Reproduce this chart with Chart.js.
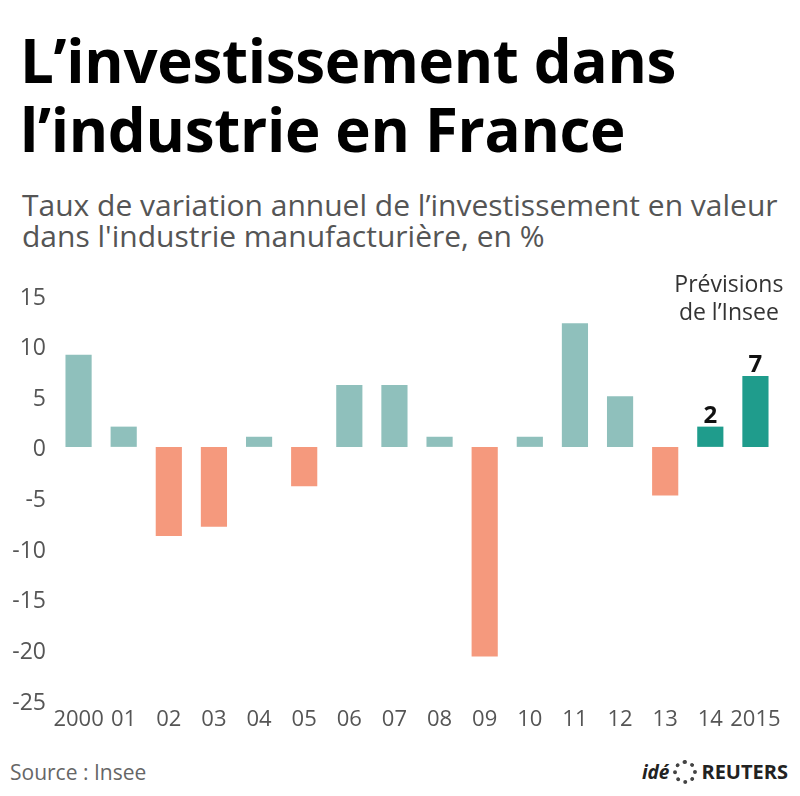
<!DOCTYPE html>
<html>
<head>
<meta charset="utf-8">
<script src="https://cdn.jsdelivr.net/npm/chart.js@4"></script>
<style>
  body { margin: 0; width: 800px; height: 796px; background: #fff; position: relative; overflow: hidden; font-family: "Open Sans", sans-serif; }
  #title { position: absolute; left: 20px; top: 26px; font-size: 60px; font-weight: 700; line-height: 69px; color: #000; letter-spacing: -0.3px; }
  #subtitle { position: absolute; left: 22px; top: 189px; font-size: 30px; line-height: 31px; color: #555; letter-spacing: 0px; }
  #chartBox { position: absolute; left: 0; top: 255px; width: 800px; height: 485px; }
  #source { position: absolute; left: 10px; top: 758px; font-size: 21px; color: #666; }
  #logo { position: absolute; right: 12px; top: 758px; font-size: 20px; font-weight: 700; color: #222; display: flex; align-items: center; gap: 4px; }
  #logo i { font-size: 19px; }
  #logo .dot { width: 24px; height: 24px; border-radius: 50%; border: 4px dotted #444; box-sizing: border-box; }
</style>
</head>
<body>
<div id="title">L’investissement dans<br>l’industrie en France</div>
<div id="subtitle">Taux de variation annuel de l’investissement en valeur<br>dans l'industrie manufacturière, en %</div>
<div id="chartBox"><canvas id="chart"></canvas></div>
<div id="source">Source : Insee</div>
<div id="logo"><i>idé</i><span class="dot"></span><span>REUTERS</span></div>
<script>
// Years (last two are Insee forecasts)
const years = ['2000', '01', '02', '03', '04', '05', '06', '07', '08', '09', '10', '11', '12', '13', '14', '2015'];
const values = [9.1, 2.0, -8.8, -7.9, 1.0, -3.9, 6.1, 6.1, 1.0, -20.7, 1.0, 12.2, 5.0, -4.8, 2, 7];
const forecast = [false, false, false, false, false, false, false, false, false, false, false, false, false, false, true, true];
const yTicks = [15, 10, 5, 0, -5, -10, -15, -20, -25];
const forecastLabel = ['Prévisions', 'de l’Insee'];

const colPos = '#8fc0bc';
const colNeg = '#f5997d';
const colForecast = '#1f9c8c';

const barColors = values.map((v, i) => forecast[i] ? colForecast : (v < 0 ? colNeg : colPos));

// labels on forecast bars + the "Prévisions" note
const notesPlugin = {
    id: 'notes',
    afterDatasetsDraw(chart) {
        const ctx = chart.ctx;
        const meta = chart.getDatasetMeta(0);
        ctx.save();
        ctx.textAlign = 'center';
        ctx.textBaseline = 'alphabetic';
        ctx.fillStyle = '#111';
        ctx.font = 'bold 24px "Open Sans"';
        values.forEach((v, i) => {
            if (!forecast[i]) return;
            const bar = meta.data[i];
            ctx.fillText(String(v), bar.x, bar.y - 4);
        });
        const first = forecast.indexOf(true);
        const x = (meta.data[first].x + meta.data[values.length - 1].x) / 2 - 4;
        ctx.font = '23px "Open Sans"';
        ctx.fillStyle = '#333';
        ctx.textBaseline = 'middle';
        ctx.fillText(forecastLabel[0], x, 30);
        ctx.fillText(forecastLabel[1], x, 58);
        ctx.restore();
    }
};

new Chart(document.getElementById('chart'), {
    type: 'bar',
    data: {
        labels: years,
        datasets: [{
            data: values,
            backgroundColor: barColors,
            barPercentage: 0.58,
            categoryPercentage: 1.0
        }]
    },
    options: {
        responsive: true,
        maintainAspectRatio: false,
        animation: false,
        layout: { padding: { left: 0, right: 22, top: 40, bottom: 5 } },
        plugins: { legend: { display: false }, tooltip: { enabled: false } },
        scales: {
            x: {
                afterFit(scale) { scale.height = 35; },
                grid: { display: false, drawTicks: false },
                border: { display: false },
                ticks: { color: '#555', font: { family: 'Open Sans', size: 22 }, padding: 7, maxRotation: 0, autoSkip: false }
            },
            y: {
                min: -25,
                max: 15,
                afterFit(scale) { scale.width = 56; },
                afterBuildTicks(scale) { scale.ticks = yTicks.map(v => ({ value: v })); },
                grid: { display: false, drawTicks: false },
                border: { display: false },
                ticks: { color: '#555', font: { family: 'Open Sans', size: 23 }, padding: 10, labelOffset: 3 }
            }
        }
    },
    plugins: [notesPlugin]
});
</script>
</body>
</html>
